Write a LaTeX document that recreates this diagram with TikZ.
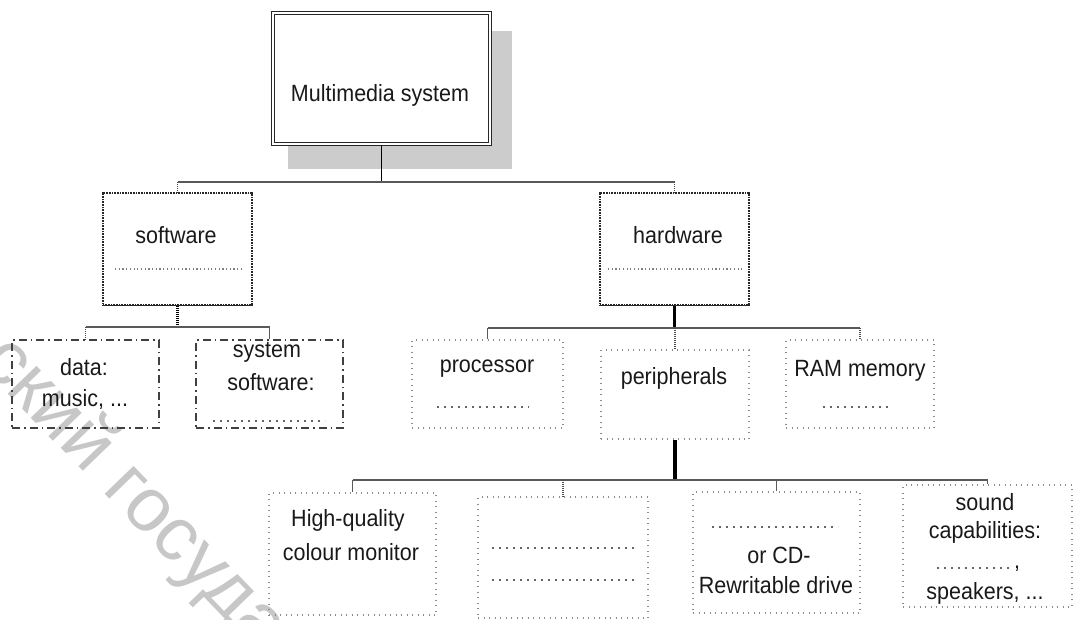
\documentclass[tikz,border=0pt]{standalone}
\usepackage{fontspec}
\setmainfont{Liberation Sans}[FakeStretch=0.915]
\newfontfamily\wmfont{Liberation Sans}
\usetikzlibrary{backgrounds}

\tikzset{
  mainbox/.style={draw=black!85, double, double distance=2pt, line width=1.2pt, fill=white, inner sep=0pt},
  topbox/.style={draw=black!85, line width=1.2pt, dash pattern=on 1pt off 0.6pt, inner sep=0pt},
  dashbox/.style={draw=black!75, line width=1.5pt, dash pattern=on 8pt off 4pt on 1.5pt off 4pt, inner sep=0pt},
  dotbox/.style={draw=black!45, line width=1.2pt, dash pattern=on 1pt off 4.5pt, inner sep=0pt},
  fillin/.style={black!60, line width=1.6pt, dash pattern=on 1.6pt off 5.4pt},
  fillinfine/.style={black!50, line width=1.2pt, dash pattern=on 1.2pt off 2.5pt},
  wire/.style={black!65, line width=1.5pt},
  stem/.style={black, line width=3.5pt},
  drop/.style={black!70, line width=1.5pt, dash pattern=on 1pt off 1pt},
  txt/.style={inner sep=0pt, anchor=base, text=black!90, font=\fontsize{23.5}{28}\selectfont},
}

\begin{document}
\begin{tikzpicture}[x=1pt,y=1pt,yscale=-1]
\useasboundingbox (0,0) rectangle (1074,619);

% Text Node (watermark)
\node (wmark) [rotate=-46, anchor=base west, inner sep=0pt, text=black!22, font=\wmfont\fontsize{76}{76}\selectfont] at (-22,363) {ский государственный};

%Shape: Rectangle
\node (ms) [mainbox, minimum width=217, minimum height=131] at (381.5,78.5) {};
\begin{scope}[on background layer]
\fill [black!20] ([shift={(16,19)}]ms.north west) rectangle ([shift={(21,24)}]ms.south east);
\end{scope}
%Shape: Rectangle
\node (sw) [topbox, minimum width=149, minimum height=112] at (177.5,249) {};
\draw [black!85, line width=1.2pt] (sw.south west) -- (sw.south east);
\node (hw) [topbox, minimum width=149, minimum height=112] at (674.5,249) {};
\draw [black!85, line width=1.2pt] (hw.south west) -- (hw.south east);
%Shape: Rectangle
\node (data) [dashbox, minimum width=147, minimum height=88] at (85.5,384) {};
\node (sys) [dashbox, minimum width=147, minimum height=88] at (269.5,384) {};
%Shape: Rectangle
\node (proc) [dotbox, minimum width=151, minimum height=88] at (487.5,384) {};
\node (peri) [dotbox, minimum width=148, minimum height=89] at (675,394.5) {};
\node (ram) [dotbox, minimum width=148, minimum height=88] at (860,384) {};
%Shape: Rectangle
\node (mon) [dotbox, minimum width=167, minimum height=122] at (352.5,554) {};
\node (blank) [dotbox, minimum width=170, minimum height=121] at (563,557.5) {};
\node (cd) [dotbox, minimum width=167, minimum height=121] at (776.5,552.5) {};
\node (snd) [dotbox, minimum width=169, minimum height=122] at (987.5,546) {};

%Straight Lines
\coordinate (busA) at (0,182);
\coordinate (busB) at (0,327);
\coordinate (busC) at (0,328);
\coordinate (busD) at (0,480);
\draw [black, line width=1.3pt] (ms.south) -- (ms.south |- busA);
\draw [wire] (sw.north |- busA) -- (hw.north |- busA);
\draw [drop] (sw.north |- busA) -- (sw.north);
\draw [drop] (hw.north |- busA) -- (hw.north);
%Straight Lines
\draw [black, line width=2.5pt, dash pattern=on 1pt off 1pt] (sw.south) -- (sw.south |- busB);
\draw [wire] (data.north |- busB) -- (sys.north |- busB);
\draw [drop] (data.north |- busB) -- (data.north);
\draw [wire] (sys.north |- busB) -- (sys.north);
%Straight Lines
\draw [stem] (hw.south) -- (hw.south |- busC);
\draw [wire] (proc.north |- busC) -- (ram.north |- busC);
\draw [wire] (proc.north |- busC) -- (proc.north);
\draw [drop] (peri.north |- busC) -- (peri.north);
\draw [drop] (ram.north |- busC) -- (ram.north);
%Straight Lines
\draw [stem] (peri.south) -- (peri.south |- busD);
\draw [wire] (mon.north |- busD) -- (snd.north |- busD);
\draw [wire] (mon.north |- busD) -- (mon.north);
\draw [drop] (blank.north |- busD) -- (blank.north);
\draw [wire] (cd.north |- busD) -- (cd.north);
\draw [wire] (snd.north |- busD) -- (snd.north);

%Dotted fill-in lines
\draw [fillinfine] (115,269) -- (243,269);
\draw [fillinfine] (608,269) -- (744,269);
\draw [fillin] (213,421) -- (325,421);
\draw [fillin] (437,407) -- (529,407);
\draw [fillin] (823,407) -- (891,407);
\draw [fillin] (492,548) -- (634,548);
\draw [fillin] (492,580) -- (634,580);
\draw [fillin] (712,527) -- (838,527);
\draw [fillin] (937,568) -- (1013,568);

% Text Node
\node (msT) [txt] at (380,101) {Multimedia system};
\node (swT) [txt] at (176,243) {software};
\node (hwT) [txt] at (678,243) {hardware};
% Text Node
\node (dataA) [txt] at (84,375) {data:};
\node (dataB) [txt] at (85,406) {music, ...};
\node (sysA) [txt] at (267,357) {system};
\node (sysB) [txt] at (271,390) {software:};
% Text Node
\node (procT) [txt] at (487,372) {processor};
\node (periT) [txt] at (674,384) {peripherals};
\node (ramT) [txt] at (860,376) {RAM memory};
% Text Node
\node (monA) [txt] at (348,526) {High-quality};
\node (monB) [txt] at (351,560) {colour monitor};
\node (cdA) [txt] at (779,563) {or CD-};
\node (cdB) [txt] at (776,593) {Rewritable drive};
\node (sndA) [txt] at (985,510) {sound};
\node (sndB) [txt] at (985,538) {capabilities:};
\node (sndC) [txt, anchor=base west] at (1014,568) {,};
\node (sndD) [txt] at (985,599) {speakers, ...};

\end{tikzpicture}
\end{document}
